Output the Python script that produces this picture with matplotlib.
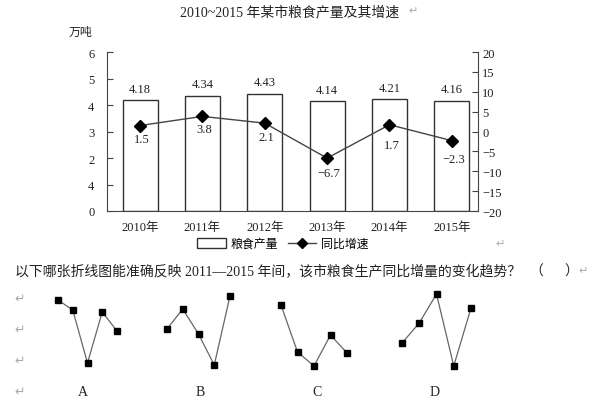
# 2010~2015 grain output chart plus the four answer options

import matplotlib
matplotlib.use('Agg')
import matplotlib.pyplot as plt
from matplotlib.patches import Patch
from matplotlib.lines import Line2D

years = ['2010年', '2011年', '2012年', '2013年', '2014年', '2015年']
output = [4.18, 4.34, 4.43, 4.14, 4.21, 4.16]
growth = [1.5, 3.8, 2.1, -6.7, 1.7, -2.3]
left_ticks = [0, 1, 2, 3, 4, 5, 6]
left_tick_labels = ['0', '4', '2', '3', '4', '5', '6']
right_ticks = [-20, -15, -10, -5, 0, 5, 10, 15, 20]

# answer options, heights
option_names = ['A', 'B', 'C', 'D']
option_a = [6.9, 5.9, 0.6, 5.7, 3.8]
option_b = [4.0, 6.0, 3.5, 0.4, 7.3]
option_c = [6.4, 1.7, 0.3, 3.4, 1.6]
option_d = [2.6, 4.6, 7.5, 0.3, 6.1]

title = '2010~2015 年某市粮食产量及其增速'
question = '以下哪张折线图能准确反映 2011—2015 年间，该市粮食生产同比增量的变化趋势？'

W, H = 600, 402
plt.rcParams['font.family'] = ['Liberation Serif', 'Noto Sans CJK SC', 'DejaVu Sans']
plt.rcParams['axes.unicode_minus'] = True

ink = '#222222'
gray = '#aaaaaa'


def fx(x):
    return x / W


def fy(y):
    return 1 - y / H


fig = plt.figure(figsize=(W / 100, H / 100), dpi=100)

# main chart
ax = fig.add_axes([fx(107), fy(212), 371 / W, 159 / H])
x = list(range(len(years)))
bars = ax.bar(x, output, width=0.56, facecolor='white', edgecolor='#333333', linewidth=1)
ax.bar_label(bars, labels=['%.2f' % v for v in output], padding=4, fontsize=9, color=ink)
ax.set_xlim(-0.53, 5.42)
ax.set_ylim(0, 6)
ax.set_xticks(x)
ax.set_xticklabels(years, fontsize=9, color=ink)
ax.set_yticks(left_ticks)
ax.set_yticklabels(left_tick_labels, fontsize=9, color=ink)
ax.tick_params(axis='x', length=0, pad=7)
ax.tick_params(axis='y', direction='in', length=4, pad=9, color='#444444')
ax.spines['top'].set_visible(False)
ax.spines['right'].set_visible(False)
for s in ('left', 'bottom'):
    ax.spines[s].set_color('#444444')

ax2 = ax.twinx()
ax2.plot(x, growth, color='#444444', linewidth=1, marker='D', markersize=6,
         markerfacecolor='black', markeredgecolor='black')
# label offsets below each marker, in pixels
label_dy = [-13, -13, -14, -15, -20, -18]
for i, v in enumerate(growth):
    ax2.annotate(('%.1f' % v).replace('-', '−'), (i, v), xytext=(2, label_dy[i]),
                 textcoords='offset pixels', ha='center', va='center', fontsize=9, color=ink)
ax2.set_ylim(-20, 20)
ax2.set_yticks(right_ticks)
ax2.tick_params(axis='y', direction='in', length=4, pad=3, labelsize=9, labelcolor=ink, color='#444444')
for s in ('top', 'left', 'bottom'):
    ax2.spines[s].set_visible(False)
ax2.spines['right'].set_color('#444444')

# legend
handles = [Patch(facecolor='white', edgecolor='#333333', label='粮食产量'),
           Line2D([], [], color='#444444', linewidth=1, marker='D', markersize=5,
                  markerfacecolor='black', markeredgecolor='black', label='同比增速')]
fig.legend(handles=handles, loc='center', bbox_to_anchor=(fx(283), fy(245)), ncol=2,
           frameon=False, fontsize=8.6, handlelength=2.4, handleheight=0.9,
           columnspacing=0.8, handletextpad=0.4)

# texts
fig.text(fx(290), fy(12), title, ha='center', va='center', fontsize=10, color=ink)
fig.text(fx(408), fy(12), '↵', ha='left', va='center', fontsize=8, color=gray)
fig.text(fx(80), fy(33), '万吨', ha='center', va='center', fontsize=8.6, color=ink)
fig.text(fx(500), fy(245), '↵', ha='center', va='center', fontsize=8, color=gray)
fig.text(fx(15), fy(272), question, ha='left', va='center', fontsize=10, color=ink)
fig.text(fx(536), fy(272), '（', ha='center', va='center', fontsize=10, color=ink,
         family=['Noto Sans CJK SC'])
fig.text(fx(571), fy(272), '）', ha='center', va='center', fontsize=10, color=ink,
         family=['Noto Sans CJK SC'])
fig.text(fx(583), fy(272), '↵', ha='center', va='center', fontsize=8, color=gray)
for y in (300, 331, 362, 393):
    fig.text(fx(20), fy(y), '↵', ha='center', va='center', fontsize=9, color=gray)

# small option charts
options = [option_a, option_b, option_c, option_d]
opt_left = [58, 167, 281, 402]
opt_width = [59, 63, 66, 69]
label_x = [83, 200, 317, 435]
for name, vals, left, width, lx in zip(option_names, options, opt_left, opt_width, label_x):
    sax = fig.add_axes([fx(left), fy(370), width / W, 100 / H])
    sax.plot(range(len(vals)), vals, color='#666666', linewidth=0.9, marker='s', markersize=4,
             markerfacecolor='black', markeredgecolor='black', clip_on=False)
    sax.set_xlim(0, len(vals) - 1)
    sax.set_ylim(0, 10)
    sax.axis('off')
    fig.text(fx(lx), fy(393), name, ha='center', va='center', fontsize=10, color=ink)

fig.savefig('out.png', dpi=100)
